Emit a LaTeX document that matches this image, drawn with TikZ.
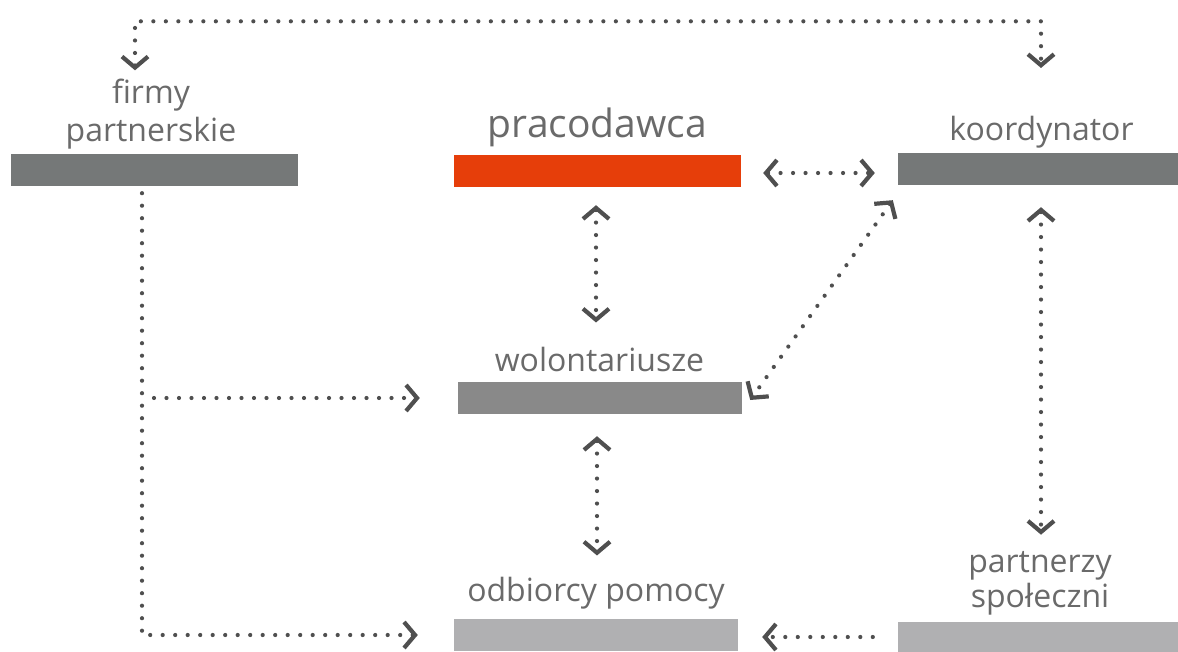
\documentclass[tikz,border=0pt]{standalone}
\usepackage{fontspec}
\setmainfont{Open Sans}
\usetikzlibrary{arrows.meta}

\definecolor{darkbar}{HTML}{757878}
\definecolor{midbar}{HTML}{898989}
\definecolor{lightbar}{HTML}{B0B0B2}
\definecolor{orangebar}{HTML}{E63E0A}
\definecolor{labelgray}{HTML}{6A6A6A}
\definecolor{linkgray}{HTML}{4F4F4F}

\begin{document}
\begin{tikzpicture}[x=1pt,y=-1pt,
    link/.style={draw=linkgray,line width=4.2pt,line cap=round,
      dash pattern=on 0pt off 12.5pt,
      >={Straight Barb[length=11pt,width=26pt,line width=4.2pt]}}]
      \useasboundingbox (0,0) rectangle (1178,652);
      \begin{scope}[every node/.style={inner sep=0pt,minimum height=32pt}]
        \node[fill=darkbar,minimum width=287pt] (firmy) at (154.5,170) {};
        \node[fill=orangebar,minimum width=287pt] (praco) at (597.5,171) {};
        \node[fill=darkbar,minimum width=280pt] (koord) at (1038,169) {};
        \node[fill=midbar,minimum width=284pt] (wol) at (600,398) {};
        \node[fill=lightbar,minimum width=284pt] (odb) at (596,635) {};
        \node[fill=lightbar,minimum width=280pt,minimum height=30pt] (partn) at (1038,637) {};
      \end{scope}
      \begin{scope}[every node/.style={inner sep=0pt,anchor=base,align=center,text=labelgray,
          font=\fontsize{32}{38}\selectfont}]
        \node (firmyTxt) at (151,142) {firmy\\partnerskie};
        \node[font=\fontsize{39}{40}\selectfont] (pracoTxt) at (597.5,138) {pracodawca};
        \node (koordTxt) at (1041.5,141) {koordynator};
        \node (wolTxt) at (599.5,371) {wolontariusze};
        \node (odbTxt) at (596,601) {odbiorcy pomocy};
        \node[font=\fontsize{32}{35}\selectfont] (partnTxt) at (1040,607) {partnerzy\\społeczni};
      \end{scope}
      \coordinate (firmyLine) at ([xshift=-12.5pt,yshift=-7pt]firmy.south);
      \draw[link,<->] ([xshift=-16pt,yshift=9pt]firmyTxt.north) -- ++(0,-49) -| ([xshift=-0.5pt,yshift=48.5pt]koordTxt.north);
      \draw[link,<->,shorten <=22pt,shorten >=23pt] ([yshift=-2pt]praco.east) -- ([yshift=-4pt]koord.west);
      \draw[link,<->,shorten <=18pt,shorten >=24pt] ([xshift=-1.5pt]praco.south) -- ([xshift=-1.5pt]praco.south |- wolTxt.north);
      \draw[link,<->] ([xshift=-5pt,yshift=-15pt]koord.south west) -- ([xshift=8pt,yshift=-2pt]wol.east);
      \draw[link,<->,shorten <=22pt,shorten >=21pt] ([xshift=-3pt]wol.south) -- ([xshift=-3pt]wol.south |- odbTxt.north);
      \draw[link,<->,shorten <=22pt,shorten >=16pt] ([xshift=3pt]koord.south) -- ([xshift=3pt]koord.south |- partnTxt.north);
      \draw[link,->] (firmyLine) |- ([xshift=-36pt]odb.west);
      \draw[link,->] ([xshift=12pt]firmyLine |- wol.west) -- ([xshift=-38pt]wol.west);
      \draw[link,->,shorten <=25pt,shorten >=24pt] (partn.west) -- ([yshift=-2pt]odb.east);
    \end{tikzpicture}
\end{document}
